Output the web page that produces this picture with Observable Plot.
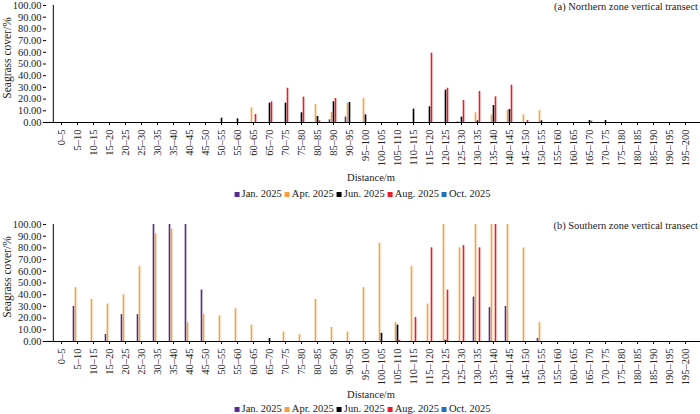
<!DOCTYPE html>
<html>
<head>
<meta charset="utf-8">
<script src="https://cdn.jsdelivr.net/npm/d3@7"></script>
<script src="https://cdn.jsdelivr.net/npm/@observablehq/plot@0.6"></script>
<style>
  html, body { margin: 0; padding: 0; background: #fff; overflow: hidden; }
  #wrap { position: relative; width: 700px; height: 414px; overflow: hidden;
          font-family: "Liberation Serif", "Times New Roman", serif; color: #222; }
  .abs { position: absolute; }
  .panel svg { overflow: visible; }
  .title { font-size: 10.5px; white-space: nowrap; line-height: 12px; }
  .xlab { font-size: 10.5px; white-space: nowrap; line-height: 12px; transform: translate(-50%, -50%); }
  .ylab { font-size: 11.5px; white-space: nowrap; line-height: 12px; transform: translate(-50%, -50%) rotate(-90deg); }
  .legend { font-size: 10.5px; white-space: nowrap; line-height: 12px; transform: translate(-50%, -50%); display: flex; align-items: center; }
  .legend .sw { display: inline-block; width: 5px; height: 5px; margin: 0 2px 0 0; }
  .legend .it { display: flex; align-items: center; margin-right: 3px; }
</style>
</head>
<body>
<div id="wrap"></div>
<script>
// ---------- data ----------
const categories = ["0–5","5–10","10–15","15–20","20–25","25–30","30–35","35–40","40–45","45–50",
  "50–55","55–60","60–65","65–70","70–75","75–80","80–85","85–90","90–95","95–100",
  "100–105","105–110","110–115","115–120","120–125","125–130","130–135","135–140","140–145","145–150",
  "150–155","155–160","160–165","165–170","170–175","175–180","180–185","185–190","190–195","195–200"];
const seriesNames = ["Jan. 2025","Apr. 2025","Jun. 2025","Aug. 2025","Oct. 2025"];
const seriesColors = ["#5b2a8e","#f7a03a","#000000","#ee1c25","#1f6fbf"];
const yTicks = [0,10,20,30,40,50,60,70,80,90,100];

// Northern zone (a): values per category index
const northJan = [0,0,0,0,0,0,0,0,0,0, 0,0,0,0,0,0,0,2.3,4.6,0, 0,0,0,0,0,0.5,0,0,0,0, 0,0,0,0,0,0,0,0,0,0];
const northApr = [0,0,0,0,0,0,0,0,0,0, 0,0,12.5,0,0,0,15.4,8.5,16.5,20.5, 0,0,0,0,0,0,8.3,6.5,10.5,6.5, 10.3,0,0,0,0,0,0,0,0,0];
const northJun = [0,0,0,0,0,0,0,0,0,0, 3.7,3.1,0,16.5,16.5,8.3,5.1,17.7,17.1,6.5, 0,0,11.4,13.4,27.6,4.6,1.4,14.5,11.1,0, 1.4,0,0,1.7,1.7,0,0,0,0,0];
const northAug = [0,0,0,0,0,0,0,0,0,0, 0,0,6.8,17.7,29.3,21.7,1.4,20.5,0,0, 0,0,0,59.3,29.3,18.8,26.5,21.9,31.9,1.7, 0,0,0,1.1,0,0,0,0,0,0];
const northOct = [0,0,0,0,0,0,0,0,0,0, 0,0,0,0,0,0,0,0,0,0, 0,0,0,0,0,0,0,0,0,0, 0,0,0,0,0,0,0,0,0,0];

// Southern zone (b)
const southJan = [0,30,0,6,23,23,100,100,100,44, 0,0,0,0,0,0,0,0,0,0, 0,0,0,0,0,0,38,29,30,0, 2.6,0,0,0,0,0,0,0,0,0];
const southApr = [0,46,36,32,40,64,92,96,16,23, 22,28,14,0,8,6,36,12,8,46, 84,16,64,32,100,80,100,100,100,80, 16,0,0,0,0,0,0,0,0,0];
const southJun = [0,0,0,0,0,0,0,0,0,0, 0,0,0,2.6,0,0,0,0,0,0, 7,14,0,0,1.1,0,0,0,0,0, 0,0,0,0,0,0,0,0,0,0];
const southAug = [0,0,0,0,0,0,0,0,0,0, 0,0,0,0,0,0,0,0,0,0, 0,1,20.5,80,44,82,80,100,0,0, 0,0,0,0,0,0,0,0,0,0];
const southOct = [0,0,0,0,0,0,0,0,0,0, 0,0,0,0,0,0,0,0,0,0, 0,0,0,0,0,0,0,0,0,0, 0,0,0,0,0,0,0,0,0,0];

// ---------- drawing ----------
const wrap = document.getElementById("wrap");
const W = 700, ML = 46, MR = 0;
const bw = (W - ML - MR) / categories.length;
const barW = 2;

function makePanel(seriesArrays, opts) {
  const marks = [];
  seriesArrays.forEach((arr, i) => {
    const rows = arr.map((v, j) => ({cat: categories[j], value: v})).filter(d => d.value > 0);
    marks.push(Plot.barY(rows, {
      x: "cat", y: "value", fill: seriesColors[i],
      dx: (i - 2) * barW + 0.5,
      insetLeft: (bw - barW) / 2, insetRight: (bw - barW) / 2
    }));
  });
  marks.push(
    Plot.ruleY([0], {stroke: "#000", strokeWidth: 1}),
    Plot.ruleX([categories[0]], {y1: 0, y2: 100, dx: -bw / 2, stroke: "#000", strokeWidth: 1}),
    Plot.axisY({ticks: yTicks, tickFormat: d3.format(".2f"), tickSize: 3, tickPadding: 2, label: null, stroke: "#000"}),
    Plot.axisX({tickRotate: -90, tickSize: 3, tickPadding: 4, label: null, stroke: "#000"})
  );
  const chart = Plot.plot({
    width: W,
    height: opts.height,
    marginLeft: ML, marginRight: MR,
    marginTop: opts.marginTop, marginBottom: opts.marginBottom,
    x: {domain: categories, padding: 0},
    y: {domain: [0, 100]},
    style: {fontFamily: '"Liberation Serif", "Times New Roman", serif', fontSize: "10.5px", color: "#222", background: "transparent", overflow: "visible"},
    marks
  });
  const holder = document.createElement("div");
  holder.className = "abs panel";
  holder.style.left = "0px";
  holder.style.top = opts.top + "px";
  holder.appendChild(chart);
  wrap.appendChild(holder);
}

function addText(cls, text, x, y, extra) {
  const d = document.createElement("div");
  d.className = "abs " + cls;
  d.textContent = text;
  d.style.left = x + "px";
  d.style.top = y + "px";
  if (extra) Object.assign(d.style, extra);
  wrap.appendChild(d);
  return d;
}

function addLegend(cx, cy) {
  const d = document.createElement("div");
  d.className = "abs legend";
  d.style.left = cx + "px";
  d.style.top = cy + "px";
  seriesNames.forEach((s, i) => {
    const it = document.createElement("span");
    it.className = "it";
    const sw = document.createElement("span");
    sw.className = "sw";
    sw.style.background = seriesColors[i];
    it.appendChild(sw);
    it.appendChild(document.createTextNode(s));
    d.appendChild(it);
  });
  wrap.appendChild(d);
}

// Panel (a)
makePanel([northJan, northApr, northJun, northAug, northOct], {top: 0, height: 165, marginTop: 5, marginBottom: 43});
addText("title", "(a) Northern zone vertical transect", 0, 1, {left: "auto", right: "2px"});
addText("ylab", "Seagrass cover/%", 7, 58);
addText("xlab", "Distance/m", 371, 178);
addLegend(364, 194);

// Panel (b)
makePanel([southJan, southApr, southJun, southAug, southOct], {top: 200, height: 184, marginTop: 24, marginBottom: 43});
addText("title", "(b) Southern zone vertical transect", 0, 220, {left: "auto", right: "2px"});
addText("ylab", "Seagrass cover/%", 7, 277);
addText("xlab", "Distance/m", 371, 395);
addLegend(364, 409);
</script>
</body>
</html>
